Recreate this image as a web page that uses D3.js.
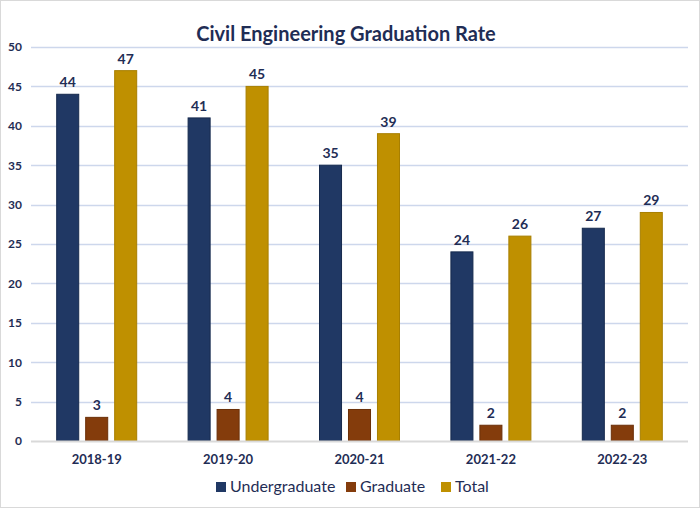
<!DOCTYPE html>
<html>
<head>
<meta charset="utf-8">
<script src="https://cdn.jsdelivr.net/npm/d3@7"></script>
<style>
  body { margin: 0; background: #fff; }
  svg { display: block; font-family: Lato, "Open Sans", sans-serif; }
</style>
</head>
<body>
<svg id="chart" width="700" height="508"></svg>
<script>
// chart data
const years = ['2018-19', '2019-20', '2020-21', '2021-22', '2022-23'];
const seriesNames = ['Undergraduate', 'Graduate', 'Total'];
const undergraduate = [44, 41, 35, 24, 27];
const graduate = [3, 4, 4, 2, 2];
const total = [47, 45, 39, 26, 29];
const yTicks = [0, 5, 10, 15, 20, 25, 30, 35, 40, 45, 50];

const colors = {
  Undergraduate: '#203864',
  Graduate: '#843c0c',
  Total: '#bf9000',
};
const strokes = {
  Undergraduate: '#162a4d',
  Graduate: '#6b2f08',
  Total: '#a87f00',
};
const textColor = '#1f2d55';

const width = 700;
const height = 508;
const margin = { top: 47, right: 12, bottom: 67, left: 31 };

const svg = d3.select('#chart');

// outer frame
svg
  .append('rect')
  .attr('x', 0.5)
  .attr('y', 0.5)
  .attr('width', width - 1)
  .attr('height', height - 1)
  .attr('fill', '#fff')
  .attr('stroke', '#d9d9d9');

// title
svg
  .append('text')
  .attr('x', 346)
  .attr('y', 41)
  .attr('text-anchor', 'middle')
  .style('font-size', '20px')
  .style('font-weight', 'bold')
  .style('fill', textColor)
  .text('Civil Engineering Graduation Rate');

const x0 = d3
  .scaleBand()
  .domain(years)
  .range([margin.left, width - margin.right])
  .padding(0);

const x1 = d3
  .scaleBand()
  .domain(seriesNames)
  .range([-40, 40])
  .paddingInner(0.24)
  .paddingOuter(0);

const y = d3
  .scaleLinear()
  .domain([0, 50])
  .range([height - margin.bottom, margin.top]);

// gridlines
svg
  .append('g')
  .selectAll('line')
  .data(yTicks.filter((t) => t > 0))
  .enter()
  .append('line')
  .attr('x1', margin.left)
  .attr('x2', width - margin.right)
  .attr('y1', (d) => Math.round(y(d)) + 0.5)
  .attr('y2', (d) => Math.round(y(d)) + 0.5)
  .attr('stroke', '#cdd7ec')
  .attr('stroke-width', 1.3);

// y axis labels
const yAxis = d3.axisLeft(y).tickValues(yTicks).tickSize(0).tickPadding(9);
const yG = svg
  .append('g')
  .attr('transform', `translate(${margin.left},0)`)
  .call(yAxis);
yG.select('.domain').remove();
yG.selectAll('text')
  .style('font-size', '12px')
  .style('font-weight', 'bold')
  .style('fill', textColor)
  .style('font-family', 'Lato, sans-serif');

// bars
const rows = years.map((yr, i) => ({
  year: yr,
  values: [
    { key: 'Undergraduate', value: undergraduate[i] },
    { key: 'Graduate', value: graduate[i] },
    { key: 'Total', value: total[i] },
  ],
}));

const groups = svg
  .append('g')
  .selectAll('g')
  .data(rows)
  .enter()
  .append('g')
  .attr('transform', (d) => `translate(${x0(d.year) + x0.bandwidth() / 2},0)`);

groups
  .selectAll('rect')
  .data((d) => d.values)
  .enter()
  .append('rect')
  .attr('x', (d) => x1(d.key))
  .attr('y', (d) => y(d.value))
  .attr('width', x1.bandwidth())
  .attr('height', (d) => y(0) - y(d.value))
  .attr('fill', (d) => colors[d.key])
  .attr('stroke', (d) => strokes[d.key])
  .attr('stroke-width', 1);

// value labels
groups
  .selectAll('text')
  .data((d) => d.values)
  .enter()
  .append('text')
  .attr('x', (d) => x1(d.key) + x1.bandwidth() / 2)
  .attr('y', (d) => y(d.value) - 7)
  .attr('text-anchor', 'middle')
  .style('font-size', '14px')
  .style('font-weight', 'bold')
  .style('fill', textColor)
  .text((d) => d.value);

// baseline
svg
  .append('line')
  .attr('x1', margin.left)
  .attr('x2', width - margin.right)
  .attr('y1', y(0) + 0.5)
  .attr('y2', y(0) + 0.5)
  .attr('stroke', '#d9d9d9')
  .attr('stroke-width', 2);

// x axis labels
const xAxis = d3.axisBottom(x0).tickSize(0).tickPadding(14);
const xG = svg
  .append('g')
  .attr('transform', `translate(0,${y(0)})`)
  .call(xAxis);
xG.select('.domain').remove();
xG.selectAll('text')
  .style('font-size', '13px')
  .style('font-weight', 'bold')
  .style('fill', textColor)
  .style('font-family', 'Lato, sans-serif');

// legend
const legendX = [216, 346, 441];
const legend = svg
  .append('g')
  .selectAll('g')
  .data(seriesNames)
  .enter()
  .append('g')
  .attr('transform', (d, i) => `translate(${legendX[i]},482)`);

legend
  .append('rect')
  .attr('width', 10)
  .attr('height', 10)
  .attr('fill', (d) => colors[d]);

legend
  .append('text')
  .attr('x', 14)
  .attr('y', 10)
  .style('font-size', '16px')
  .style('fill', textColor)
  .text((d) => d);
</script>
</body>
</html>
